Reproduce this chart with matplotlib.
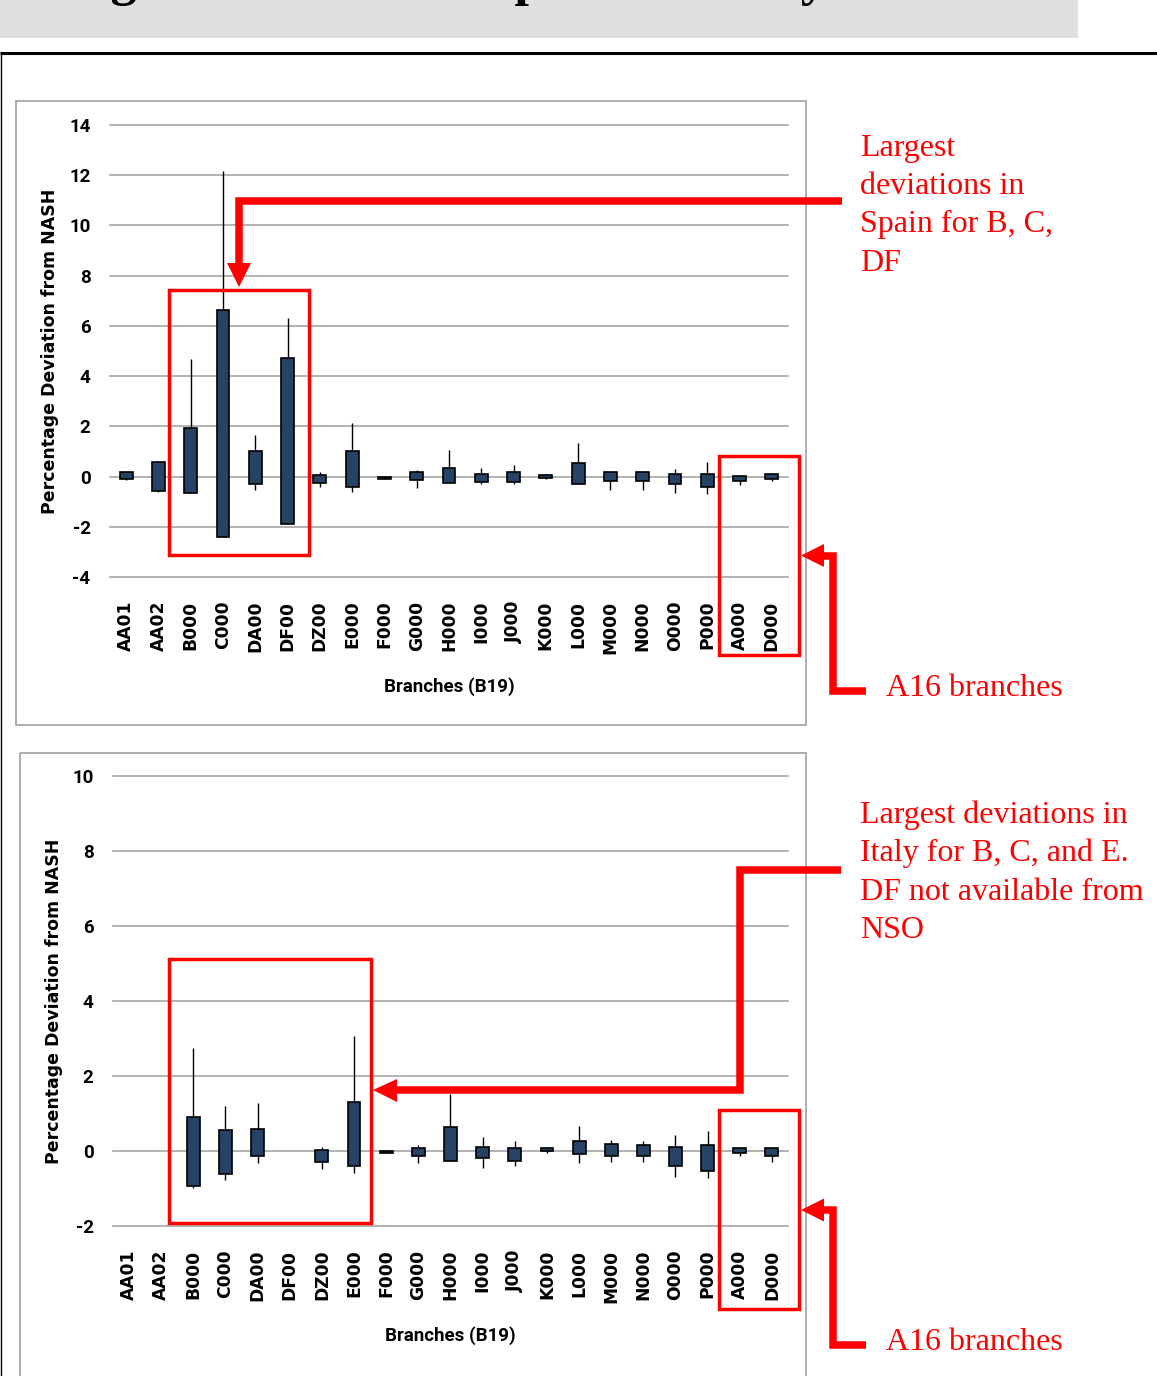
import numpy as np
import matplotlib
matplotlib.use("Agg")
import matplotlib.pyplot as plt
from matplotlib.patches import Rectangle, Polygon

# ---- data -------------------------------------------------------------
branches = ["AA01", "AA02", "B000", "C000", "DA00", "DF00", "DZ00", "E000",
            "F000", "G000", "H000", "I000", "J000", "K000", "L000", "M000",
            "N000", "O000", "P000", "A000", "D000"]

# Spain: whisker low, box bottom, box top, whisker high (% deviation from NASH)
spain_low = [-0.14, -0.60, -0.67, -2.40, -0.54, -1.87, -0.43, -0.60, -0.08, -0.47, -0.26,
             -0.30, -0.30, -0.09, -0.31, -0.54, -0.54, -0.66, -0.71, -0.35, -0.18]
spain_q1 = [-0.09, -0.57, -0.67, -2.40, -0.31, -1.87, -0.26, -0.43, -0.08, -0.14, -0.26,
            -0.20, -0.20, -0.07, -0.31, -0.18, -0.18, -0.30, -0.42, -0.18, -0.08]
spain_q3 = [0.17, 0.59, 1.94, 6.63, 1.00, 4.73, 0.05, 1.00, -0.01, 0.17, 0.35,
            0.12, 0.18, 0.06, 0.54, 0.18, 0.18, 0.11, 0.11, 0.04, 0.12]
spain_high = [0.17, 0.59, 4.67, 12.18, 1.64, 6.31, 0.17, 2.12, -0.01, 0.26, 1.06,
              0.34, 0.46, 0.10, 1.35, 0.18, 0.23, 0.30, 0.59, 0.04, 0.15]

# Italy (AA01, AA02 and DF00 not available)
nan = np.nan
italy_low = [nan, nan, -0.99, -0.78, -0.32, nan, -0.47, -0.59, -0.05, -0.32, -0.26,
             -0.44, -0.39, -0.04, -0.31, -0.28, -0.28, -0.70, -0.71, -0.12, -0.28]
italy_q1 = [nan, nan, -0.92, -0.60, -0.13, nan, -0.28, -0.40, -0.05, -0.13, -0.26,
            -0.18, -0.26, -0.01, -0.09, -0.13, -0.13, -0.40, -0.52, -0.04, -0.13]
italy_q3 = [nan, nan, 0.91, 0.56, 0.59, nan, 0.04, 1.30, 0.00, 0.08, 0.63,
            0.11, 0.08, 0.08, 0.27, 0.20, 0.15, 0.11, 0.15, 0.08, 0.08]
italy_high = [nan, nan, 2.76, 1.21, 1.29, nan, 0.11, 3.07, 0.00, 0.15, 1.51,
              0.38, 0.26, 0.11, 0.67, 0.30, 0.26, 0.42, 0.54, 0.08, 0.08]

spain_ticks = [-4, -2, 0, 2, 4, 6, 8, 10, 12, 14]
italy_ticks = [-2, 0, 2, 4, 6, 8, 10]

# ---- styling ----------------------------------------------------------
W, H = 1157, 1376
BOX = "#264264"
GRID = "#A6A6A6"
RED = "#FF0000"
NARROW = ["Roboto", "DejaVu Sans"]
SERIF = ["Liberation Serif", "DejaVu Serif"]

fig = plt.figure(figsize=(W / 100, H / 100), dpi=100)


def px_rect(l, t, r, b):
    return [l / W, 1 - b / H, (r - l) / W, (b - t) / H]


# page layer (pixel coordinates, y downwards)
page = fig.add_axes([0, 0, 1, 1], zorder=0)
page.set_xlim(0, W)
page.set_ylim(H, 0)
page.axis("off")

page.add_patch(Rectangle((0, 0), 1078, 38, fc="#DFDFDF", ec="none"))
page.text(18, -5, "Range of deviations: Spain and Italy", family=SERIF,
          weight="bold", fontsize=37.5, ha="left", va="baseline", color="black")
page.plot([0, W], [53, 53], color="black", lw=2.2, solid_capstyle="butt")
page.plot([0.5, 0.5], [53, H], color="black", lw=1.0)
page.add_patch(Rectangle((15.5, 101), 790.5, 624, fill=False, ec="#A0A0A0", lw=1.2))
page.add_patch(Rectangle((19.5, 752.5), 786.5, 640, fill=False, ec="#A0A0A0", lw=1.2))


def candles(rect, low, q1, q3, high, ticks):
    ax = fig.add_axes(px_rect(*rect), zorder=1)
    ax.set_facecolor("none")
    x = np.arange(len(branches))
    low, q1, q3, high = (np.asarray(v, float) for v in (low, q1, q3, high))
    ok = ~np.isnan(q1)
    ax.vlines(x[ok], low[ok], high[ok], color="black", lw=1.0, zorder=3)
    ax.bar(x[ok], (q3 - q1)[ok], bottom=q1[ok], width=0.4, color=BOX,
           edgecolor="black", linewidth=1.2, zorder=4)
    ax.set_xlim(-0.5, len(branches) - 0.5)
    ax.set_ylim(ticks[0], ticks[-1])
    ax.set_yticks(ticks)
    ax.set_yticklabels([str(t) for t in ticks], family=NARROW,
                       fontweight="bold", fontsize=13.5)
    ax.set_xticks(x)
    ax.set_xticklabels(branches, rotation=90, family="DejaVu Sans",
                       fontweight="bold", fontsize=12.3)
    ax.tick_params(axis="y", length=0, pad=14)
    ax.tick_params(axis="x", length=0, pad=17)
    ax.grid(axis="y", color=GRID, lw=1.2)
    for gl in ax.get_ygridlines():
        gl.set_clip_on(False)
    ax.set_axisbelow(True)
    for s in ax.spines.values():
        s.set_visible(False)
    ax.set_ylabel("Percentage Deviation from NASH", family="DejaVu Sans",
                  fontweight="bold", fontsize=12.5)
    ax.yaxis.label.set_va("center")
    ax.set_xlabel("Branches (B19)", family=NARROW, fontweight="bold", fontsize=13.5)
    ax.xaxis.label.set_va("center")
    return ax


ax1 = candles((110, 125, 788, 577), spain_low, spain_q1, spain_q3, spain_high, spain_ticks)
ax1.yaxis.set_label_coords((50 - 110) / 678, 0.5)
ax1.xaxis.set_label_coords(0.5, -(687 - 577) / 452)

ax2 = candles((113, 776, 788, 1226), italy_low, italy_q1, italy_q3, italy_high, italy_ticks)
ax2.yaxis.set_label_coords((54 - 113) / 675, 0.5)
ax2.xaxis.set_label_coords(0.5, -(1336 - 1226) / 450)

# ---- red call-outs ------------------------------------------------------
ov = fig.add_axes([0, 0, 1, 1], zorder=5)
ov.set_xlim(0, W)
ov.set_ylim(H, 0)
ov.axis("off")


def red_box(l, t, r, b):
    ov.add_patch(Rectangle((l, t), r - l, b - t, fill=False, ec=RED, lw=2.5,
                           joinstyle="miter"))


def red_arrow(points, head):
    xs, ys = zip(*points)
    ov.plot(xs, ys, color=RED, lw=5.4, solid_joinstyle="miter", solid_capstyle="butt")
    ov.add_patch(Polygon(head, closed=True, fc=RED, ec="none"))


def red_lines(x, baselines, lines):
    for yb, s in zip(baselines, lines):
        ov.text(x, yb, s, family=SERIF, fontsize=23, color=RED, ha="left", va="baseline")


# Spain panel
red_box(169, 290, 309, 555)
red_arrow([(842, 201), (239, 201), (239, 266)], [(227, 263), (251, 263), (239, 287)])
red_lines(860, [156, 194, 232, 271],
          ["Largest", "deviations in", "Spain for B, C,", "DF"])
red_box(719, 455.5, 798.5, 655)
red_arrow([(866, 691), (832.5, 691), (832.5, 555.5), (822, 555.5)],
          [(824, 544), (824, 567), (801, 555.5)])
red_lines(886, [696], ["A16 branches"])

# Italy panel
red_box(169, 958.5, 371, 1222.5)
red_arrow([(841, 869.5), (740, 869.5), (740, 1090), (395, 1090)],
          [(397, 1079), (397, 1102), (373, 1090)])
red_lines(860, [823, 861.5, 900, 938],
          ["Largest deviations in", "Italy for B, C, and E.",
           "DF not available from", "NSO"])
red_box(719, 1110, 798.5, 1309)
red_arrow([(866, 1345), (832.5, 1345), (832.5, 1210), (822, 1210)],
          [(824, 1198.5), (824, 1221.5), (801, 1210)])
red_lines(886, [1350], ["A16 branches"])

fig.savefig("out.png", dpi=100)
